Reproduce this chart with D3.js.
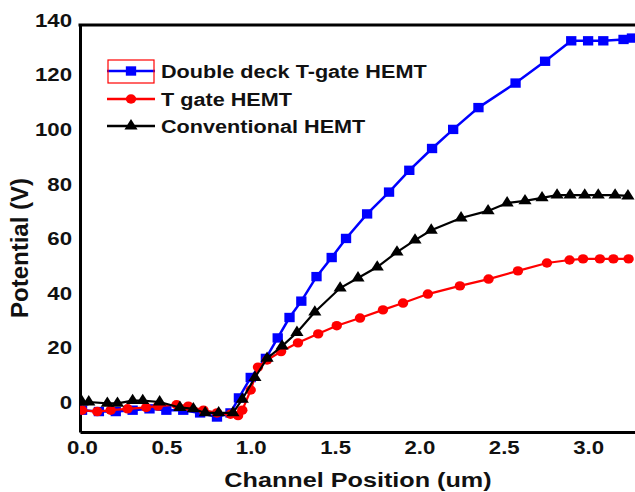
<!DOCTYPE html>
<html>
<head>
<meta charset="utf-8">
<script src="https://cdn.jsdelivr.net/npm/d3@7"></script>
<style>
html,body{margin:0;padding:0;background:#fff;}
svg text{font-family:"Liberation Sans",Arial,sans-serif;font-weight:bold;fill:#111;}
</style>
</head>
<body>
<svg id="chart" width="635" height="492"></svg>
<script>
const xTicks = [0.0, 0.5, 1.0, 1.5, 2.0, 2.5, 3.0];
const yTicks = [0, 20, 40, 60, 80, 100, 120, 140];
const seriesNames = ["Double deck T-gate HEMT", "T gate HEMT", "Conventional HEMT"];

const blueX = [0, 0.1, 0.2, 0.3, 0.4, 0.5, 0.6, 0.7, 0.8, 0.88, 0.93, 1.0, 1.09, 1.16, 1.23, 1.3, 1.39, 1.48, 1.565, 1.69, 1.82, 1.94, 2.075, 2.2, 2.35, 2.57, 2.745, 2.9, 3.0, 3.09, 3.21, 3.26];
const blueY = [-3, -3.5, -3.5, -3, -2.5, -3, -3, -4, -5.5, -4, 1.5, 9, 16, 23.5, 31, 37, 46, 53, 60, 69, 77, 85, 93, 100, 108, 117, 125, 132.5, 132.5, 132.5, 133, 133.5];

const redX = [0, 0.09, 0.17, 0.27, 0.38, 0.45, 0.56, 0.63, 0.72, 0.8, 0.88, 0.925, 0.95, 1.0, 1.043, 1.097, 1.18, 1.28, 1.4, 1.51, 1.648, 1.784, 1.903, 2.05, 2.24, 2.41, 2.584, 2.756, 2.89, 2.97, 3.07, 3.15, 3.24];
const redY = [-3, -3.5, -3, -2.5, -2, -1.5, -1, -1.5, -3, -4, -4.5, -5, -3, 4.4, 12.8, 15.4, 18.5, 21.7, 25, 28, 30.8, 33.8, 36.3, 39.6, 42.6, 45.1, 48.1, 51, 52.1, 52.5, 52.5, 52.5, 52.5];

const blackX = [0, 0.04, 0.15, 0.21, 0.3, 0.36, 0.46, 0.58, 0.66, 0.73, 0.81, 0.895, 0.95, 1.025, 1.097, 1.186, 1.274, 1.38, 1.53, 1.636, 1.75, 1.867, 1.974, 2.07, 2.247, 2.407, 2.52, 2.626, 2.727, 2.816, 2.893, 2.98, 3.06, 3.16, 3.236];
const blackY = [0, 0, -0.5, -0.5, 0.5, 0.5, 0, -2, -2.5, -4, -4, -4, 1, 9, 16, 20.5, 25.5, 33, 41.8, 45.5, 49.5, 55, 59.4, 63, 67.5, 70.1, 73, 73.8, 74.9, 75.9, 75.9, 75.9, 75.9, 75.9, 75.6];

const svg = d3.select("#chart");
const L = 80, R = 635, T = 25, B = 432;
const SX = 1.17; // horizontal stretch of the lettering in the original picture
const x = d3.scaleLinear().domain([-0.012, 3.278]).range([L, R]);
const y = d3.scaleLinear().domain([-11, 138.3]).range([B, T]);

svg.append("clipPath").attr("id","clip").append("rect")
  .attr("x", L).attr("y", T - 6).attr("width", R - L).attr("height", B - T + 6);

// axes
const xAxis = svg.append("g").attr("transform", `translate(0,${B})`)
  .call(d3.axisBottom(x).tickValues(xTicks).tickSize(0).tickPadding(9).tickFormat(d3.format(".1f")));
xAxis.select(".domain").attr("stroke", "#000").attr("stroke-width", 3);
xAxis.selectAll("text").attr("font-size", 19).attr("transform", `scale(${SX},1)`)
  .style("font-family", "Liberation Sans, Arial, sans-serif").style("font-weight","bold").attr("fill","#111");

const yAxis = svg.append("g").attr("transform", `translate(${L},0)`)
  .call(d3.axisLeft(y).tickValues(yTicks).tickSize(0).tickPadding(8));
yAxis.select(".domain").attr("stroke", "#000").attr("stroke-width", 3);
yAxis.selectAll("text").attr("font-size", 19).attr("x", -8 / SX).attr("transform", `scale(${SX},1)`)
  .style("font-family", "Liberation Sans, Arial, sans-serif").style("font-weight","bold").attr("fill","#111");

// top border
svg.append("line").attr("x1", L - 1.5).attr("x2", R).attr("y1", T).attr("y2", T)
  .attr("stroke", "#000").attr("stroke-width", 3);

// axis titles
svg.append("text").attr("transform", `translate(358,487) scale(1.2,1)`).attr("text-anchor", "middle")
  .attr("font-size", 21).text("Channel Position (um)");
svg.append("text").attr("transform", "translate(28,248) rotate(-90)").attr("text-anchor", "middle")
  .attr("font-size", 24).text("Potential (V)");

const series = [
  {name: seriesNames[0], xs: blueX, ys: blueY, color: "#0000ff", sym: d3.symbolSquare, size: 88, lw: 2.5},
  {name: seriesNames[1], xs: redX, ys: redY, color: "#ff0000", sym: d3.symbolCircle, size: 70, lw: 2.2},
  {name: seriesNames[2], xs: blackX, ys: blackY, color: "#000000", sym: d3.symbolTriangle, size: 62, lw: 2.2}
];

const plot = svg.append("g").attr("clip-path", "url(#clip)");
const line = d3.line().x(d => x(d[0])).y(d => y(d[1]));
series.forEach(s => {
  const pts = s.xs.map((v, i) => [v, s.ys[i]]);
  plot.append("path").datum(pts).attr("d", line).attr("fill", "none")
    .attr("stroke", s.color).attr("stroke-width", s.lw);
  plot.selectAll(null).data(pts).enter().append("path")
    .attr("d", d3.symbol().type(s.sym).size(s.size))
    .attr("transform", d => `translate(${x(d[0])},${y(d[1])}) scale(1.1,1)`)
    .attr("fill", s.color);
});

// legend
const legY = [71, 99, 126];
series.forEach((s, i) => {
  const g = svg.append("g");
  g.append("line").attr("x1", 107).attr("x2", 155).attr("y1", legY[i]).attr("y2", legY[i])
    .attr("stroke", s.color).attr("stroke-width", 2.5);
  g.append("path").attr("d", d3.symbol().type(s.sym).size(s.size))
    .attr("transform", `translate(131,${legY[i]}) scale(1.1,1)`).attr("fill", s.color);
  g.append("text").attr("transform", `translate(161,${legY[i] + 6.5}) scale(${SX},1)`)
    .attr("font-size", 18.5).text(s.name);
});
svg.append("rect").attr("x", 108).attr("y", 60).attr("width", 46).attr("height", 23)
  .attr("fill", "none").attr("stroke", "#ff0000").attr("stroke-width", 1.2);
</script>
</body>
</html>
